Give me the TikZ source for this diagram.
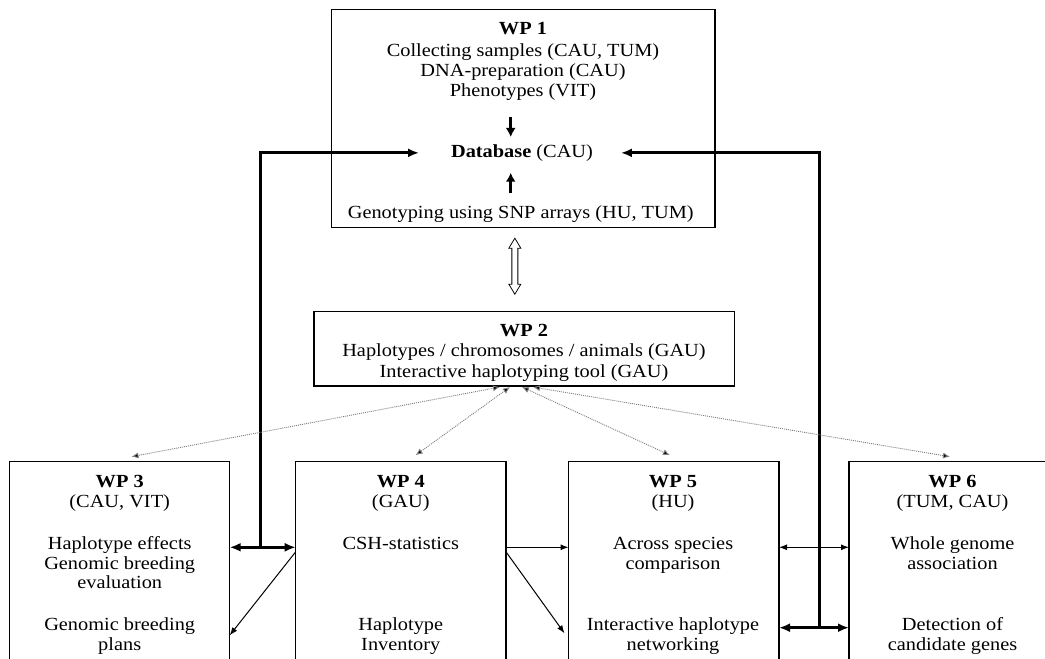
\documentclass[tikz,border=0pt]{standalone}
\usepackage{fontspec}
\setmainfont[FakeStretch=1.1]{Liberation Serif}
\usetikzlibrary{arrows.meta,calc}
\begin{document}
\begin{tikzpicture}[x=1pt,y=-1pt,
  box/.style={draw, line width=1.1pt, inner sep=0pt, outer sep=0pt},
  txt/.style={anchor=base, inner sep=0pt, outer sep=0pt, font=\fontsize{18.5}{20}\selectfont},
  ttl/.style={txt, font=\fontsize{18.5}{20}\selectfont\bfseries},
  thk/.style={line width=3pt},
  thkarr/.style={thk, -{Latex[length=11pt,width=9pt]}},
  thkdbl/.style={thk, {Latex[length=11pt,width=9pt]}-{Latex[length=11pt,width=9pt]}},
  thnarr/.style={line width=1pt, -{Latex[length=8pt,width=6pt]}},
  thndbl/.style={line width=1pt, {Latex[length=8pt,width=6pt]}-{Latex[length=8pt,width=6pt]}},
  inarr/.style={line width=2.8pt, -{Latex[length=9pt,width=10pt]}},
  dotarr/.style={draw=gray, line width=0.9pt, dash pattern=on 1pt off 1pt,
     {Latex[length=7pt,width=6pt,fill=black]}-{Latex[length=7pt,width=6pt,fill=black]}}
]
\useasboundingbox (0,0) rectangle (1045,659);
\clip (0,0) rectangle (1045,659);
\fill[white] (0,0) rectangle (1045,659);

% boxes
\node[box, minimum width=383.3pt, minimum height=218.4pt] (wp1) at (523.35,118.5) {};
\node[box, minimum width=420.6pt, minimum height=74.3pt] (wp2) at (524.3,348.85) {};
\node[box, minimum width=219.9pt, minimum height=238.3pt] (wp3) at (119.75,580.85) {};
\node[box, minimum width=210.3pt, minimum height=238.3pt] (wp4) at (400.85,580.85) {};
\node[box, minimum width=210.5pt, minimum height=238.3pt] (wp5) at (673.75,580.85) {};
\node[box, minimum width=209pt, minimum height=238.3pt] (wp6) at (953.5,580.85) {};

% WP1 texts
\node[ttl] (t1a) at (523,34) {WP 1};
\node[txt] (t1b) at (523,56) {Collecting samples (CAU, TUM)};
\node[txt] (t1c) at (523,76.7) {DNA-preparation (CAU)};
\node[txt] (phen) at (523,96) {Phenotypes (VIT)};
\node[txt] (db) at (522,157.3) {\textbf{Database} (CAU)};
\node[txt] (geno) at (520.8,218.3) {Genotyping using SNP arrays (HU, TUM)};

% WP2 texts
\node[ttl] (t2a) at (524,336) {WP 2};
\node[txt] (t2b) at (524,356.5) {Haplotypes / chromosomes / animals (GAU)};
\node[txt] (t2c) at (524,377) {Interactive haplotyping tool (GAU)};

% WP3 texts
\node[ttl] (t3a) at (119.7,487.7) {WP 3};
\node[txt] (t3b) at (119.7,507.5) {(CAU, VIT)};
\node[txt] (t3c) at (119.7,549) {Haplotype effects};
\node[txt] (t3d) at (119.7,569) {Genomic breeding};
\node[txt] (t3e) at (119.7,588.5) {evaluation};
\node[txt] (t3f) at (119.7,630) {Genomic breeding};
\node[txt] (t3g) at (119.7,650) {plans};

% WP4 texts
\node[ttl] (t4a) at (400.8,487.7) {WP 4};
\node[txt] (t4b) at (400.8,507.5) {(GAU)};
\node[txt] (t4c) at (400.8,549) {CSH-statistics};
\node[txt] (t4d) at (400.8,630) {Haplotype};
\node[txt] (t4e) at (400.8,650) {Inventory};

% WP5 texts
\node[ttl] (t5a) at (673,487.7) {WP 5};
\node[txt] (t5b) at (673,507.5) {(HU)};
\node[txt] (t5c) at (673,549) {Across species};
\node[txt] (t5d) at (673,569) {comparison};
\node[txt] (t5e) at (673,630) {Interactive haplotype};
\node[txt] (t5f) at (673,650) {networking};

% WP6 texts
\node[ttl] (t6a) at (952.5,487.7) {WP 6};
\node[txt] (t6b) at (952.5,507.5) {(TUM, CAU)};
\node[txt] (t6c) at (952.5,549) {Whole genome};
\node[txt] (t6d) at (952.5,569) {association};
\node[txt] (t6e) at (952.5,630) {Detection of};
\node[txt] (t6f) at (952.5,650) {candidate genes};

% inner WP1 arrows
\draw[inarr] ($(phen.south)+(-12.3,17.5)$) -- ($(db.north)+(-11.3,-7.5)$);
\draw[inarr] ($(geno.north)+(-10.1,-12.2)$) -- ($(db.south)+(-11.3,11.5)$);

% junction coordinates
\coordinate (jL) at (260.7,547.3);
\coordinate (jR) at (819,627.7);

% thick feedback lines
\draw[thkdbl] (wp3.east |- jL) -- (wp4.west |- jL);
\draw[thkarr] (jL) |- ($(db.west)+(-32,0)$);
\draw[thkdbl] (wp5.east |- jR) -- (wp6.west |- jR);
\draw[thkarr] (jR) |- ($(db.east)+(28,0)$);

% thin arrows
\draw[thnarr] ($(wp4.west |- jL)+(0,4.5)$) -- ($(wp3.east |- jL)+(0,88)$);
\draw[thnarr] (wp4.east |- jL) -- (wp5.west |- jL);
\draw[thnarr] ($(wp4.east |- jL)+(0,4.5)$) -- ($(wp5.west |- jL)+(-4,86)$);
\draw[thndbl] (wp5.east |- jL) -- (wp6.west |- jL);

% hollow double arrow WP1 <-> WP2
\coordinate (ha) at ($(wp1.south)+(-8.5,0)$);
\draw[line width=0.8pt, fill=white] ($(ha)+(0,10.5)$) -- ++(6,10) -- ++(-3,0) -- ++(0,36)
  -- ++(3,0) -- ++(-6,10) -- ++(-6,-10) -- ++(3,0) -- ++(0,-36) -- ++(-3,0) -- cycle;

% dotted arrows WP2 <-> WP3..WP6
\draw[dotarr] ($(wp2.south)+(-24.3,1)$) -- ($(wp3.north)+(11.75,-5)$);
\draw[dotarr] ($(wp2.south)+(-14.3,1)$) -- ($(wp4.north)+(14.75,-6.5)$);
\draw[dotarr] ($(wp2.south)+(-2.3,1)$) -- ($(wp5.north)+(-3.75,-6.5)$);
\draw[dotarr] ($(wp2.south)+(8.7,1)$) -- ($(wp6.north)+(-3.5,-5)$);
\end{tikzpicture}
\end{document}
